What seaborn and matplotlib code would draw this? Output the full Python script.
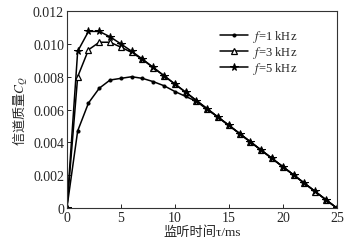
import numpy as np
import pandas as pd
import matplotlib
matplotlib.use('Agg')
import matplotlib.pyplot as plt
import seaborn as sns

# 监听时间 τ (ms)
tau = list(range(0, 26))

# 各频率下的信道质量 C_Q
cq_1k = [0, 0.0047, 0.0064, 0.0073, 0.0078, 0.0079, 0.0080, 0.0079, 0.0077, 0.00745,
         0.0071, 0.0068, 0.0065, 0.0060, 0.00554, 0.00504, 0.00454, 0.00403, 0.00353,
         0.00302, 0.00252, 0.00202, 0.00151, 0.00101, 0.0005, 0]
cq_3k = [0, 0.0080, 0.00964, 0.0101, 0.0101, 0.0098, 0.00948, 0.00905, 0.00855, 0.00805,
         0.00755, 0.00705, 0.00654, 0.00604, 0.00553, 0.00503, 0.00453, 0.00402, 0.00352,
         0.00302, 0.00251, 0.00201, 0.00151, 0.00100, 0.0005, 0]
cq_5k = [0, 0.00955, 0.01076, 0.01076, 0.01043, 0.0100, 0.00955, 0.00907, 0.00857, 0.00806,
         0.00756, 0.00706, 0.00655, 0.00605, 0.00554, 0.00504, 0.00454, 0.00403, 0.00353,
         0.00302, 0.00252, 0.00202, 0.00151, 0.00101, 0.0005, 0]
labels = ['$f$=1 kHz', '$f$=3 kHz', '$f$=5 kHz']

sns.set_style("ticks")
plt.rcParams['font.family'] = ['Liberation Serif', 'Noto Sans CJK SC']
plt.rcParams['mathtext.fontset'] = 'stix'
plt.rcParams['xtick.direction'] = 'in'
plt.rcParams['ytick.direction'] = 'in'

fig, ax = plt.subplots(figsize=(3.52, 2.51), dpi=100)
fig.subplots_adjust(left=0.19, right=0.957, top=0.952, bottom=0.167)

styles = [dict(marker='o', markersize=2.2, markerfacecolor='k'),
          dict(marker='^', markersize=5, markerfacecolor='white', markeredgewidth=0.9),
          dict(marker='*', markersize=5.5, markerfacecolor='k')]
for y, lab, st in zip([cq_1k, cq_3k, cq_5k], labels, styles):
    sns.lineplot(x=tau, y=y, ax=ax, color='k', linewidth=1.1, label=lab,
                 markeredgecolor='k', **st)

ax.set_xlim(0, 25)
ax.set_ylim(0, 0.012)
ax.set_xticks([0, 5, 10, 15, 20, 25])
ax.set_yticks([0, 0.002, 0.004, 0.006, 0.008, 0.010, 0.012])
ax.set_yticklabels(['0', '0.002', '0.004', '0.006', '0.008', '0.010', '0.012'])
ax.tick_params(labelsize=10, length=3, width=0.7, pad=2)
for s in ax.spines.values():
    s.set_linewidth(0.8)
    s.set_color('#333333')

# 中文部分用 CJK 字体, τ 和 /ms 回落到衬线字体
ax.set_xlabel('监听时间τ/ms', fontsize=9.5, labelpad=1)
ax.set_ylabel('信道质量$C_Q$', fontsize=9.5, labelpad=2,
              family=['Noto Sans CJK SC'])

ax.legend(loc='upper right', bbox_to_anchor=(0.875, 0.945), frameon=False,
          fontsize=9, handlelength=2.2, handletextpad=0.4, labelspacing=0,
          borderpad=0)

plt.savefig('out.png', dpi=100)
